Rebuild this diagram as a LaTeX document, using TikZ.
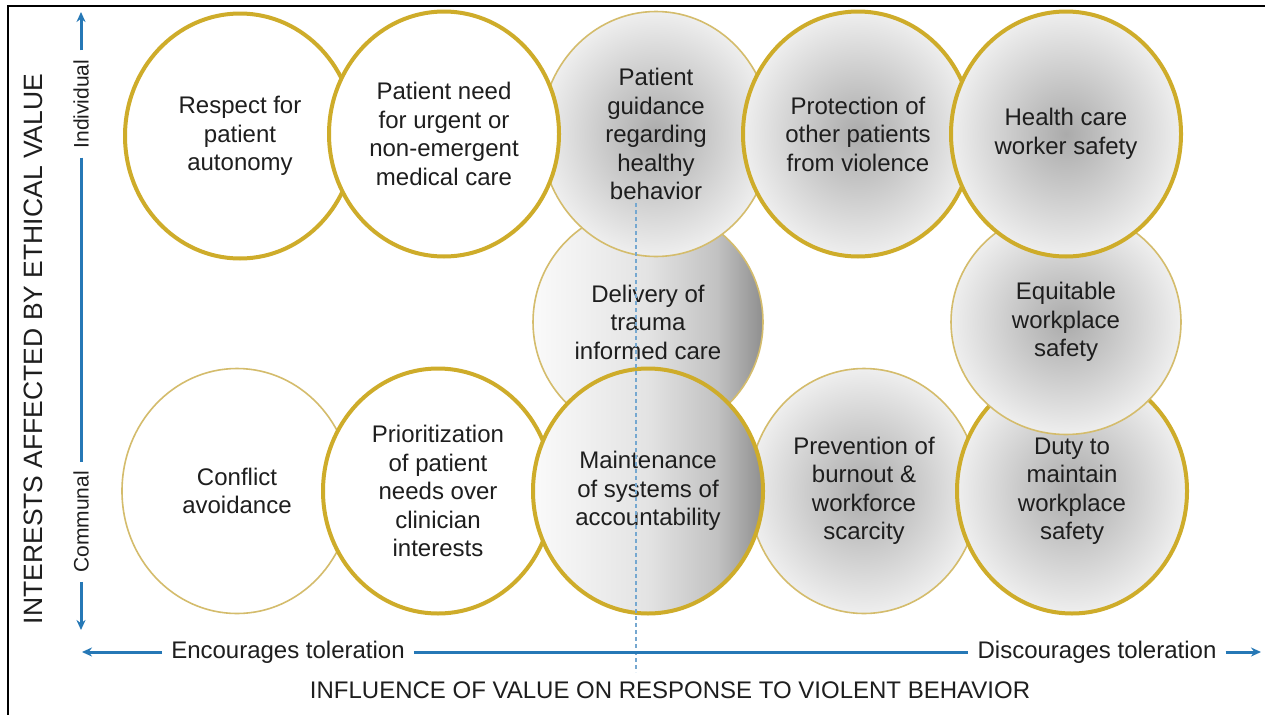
\documentclass[tikz,border=0pt]{standalone}
\usepackage{fontspec}
\setmainfont{Liberation Sans}
\usepackage{tikz}
\usetikzlibrary{shapes.geometric,arrows.meta}
\definecolor{ringgold}{RGB}{206,172,42}
\definecolor{palegold}{RGB}{212,188,108}
\definecolor{axisblue}{RGB}{38,120,182}
\definecolor{dashblue}{RGB}{118,168,208}
\definecolor{inkgray}{RGB}{30,30,30}
\pgfdeclareradialshading{ballgray}{\pgfpoint{0bp}{0bp}}{color(0bp)=(gray!66); color(10bp)=(gray!45); color(25bp)=(gray!13); color(50bp)=(gray!13)}
\pgfdeclarehorizontalshading{sidegray}{100bp}{color(0bp)=(gray!4); color(25bp)=(gray!4); color(50bp)=(gray!22); color(65bp)=(gray!48); color(75bp)=(gray!88); color(100bp)=(gray!88)}

\begin{document}
\begin{tikzpicture}[x=1pt,y=-1pt,
        ring/.style={ellipse, minimum width=230pt, minimum height=245pt, inner sep=0pt, align=center, text=inkgray, font=\fontsize{24}{28.5}\selectfont},
        bold/.style={ring, draw=ringgold, line width=4pt},
        fine/.style={ring, draw=palegold, line width=1.6pt},
        plain/.style={fill=white},
        ball/.style={shade, shading=ballgray},
        side/.style={shade, shading=sidegray},
        axis/.style={draw=axisblue, line width=3pt},
        tip/.style={-{Stealth[length=10pt,width=9pt]}},
        axlab/.style={text=inkgray, font=\fontsize{24}{28}\selectfont, inner sep=9pt},
        title/.style={text=inkgray, font=\fontsize{24}{28}\selectfont}]
    \useasboundingbox (0,0) rectangle (1265,715);
    \fill[white] (0,0) rectangle (1265,715);
    % \draw[help lines] (0,0) grid[step=50] (1265,715);
    \coordinate (tl) at (8,6);
    \coordinate (tr) at (1265,6);
    \coordinate (bl) at (8,715);
    \draw[line width=2pt] (tr) -- (tl) -- (bl);

    \node[fine, side, minimum height=230pt] (deliv) at (648,322) {Delivery of\\trauma\\informed care};
    \node[fine, ball] (prev) at (864,491) {Prevention of\\burnout \&\\workforce\\scarcity};
    \node[fine, plain] (confl) at (237,491) {Conflict\\avoidance};
    \node[bold, plain] (prio) at (438,491) {Prioritization\\of patient\\needs over\\clinician\\interests};
    \node[bold, side] (maint) at (648,491) {Maintenance\\of systems of\\accountability};
    \node[bold, ball] (duty) at (1072,491) {Duty to\\maintain\\workplace\\safety};
    \node[fine, ball, minimum height=225pt] (equit) at (1066,322) {Equitable\\workplace\\safety};
    \node[fine, ball] (guid) at (656,134) {Patient\\guidance\\regarding\\healthy\\behavior};
    \node[bold, plain] (resp) at (240,136) {Respect for\\patient\\autonomy};
    \node[bold, plain] (need) at (444,134) {Patient need\\for urgent or\\non-emergent\\medical care};
    \node[bold, ball] (prot) at (858,134) {Protection of\\other patients\\from violence};
    \node[bold, ball] (hcw) at (1066,134) {Health care\\worker safety};

    \coordinate (dtop) at (636,203);
    \coordinate (dbot) at (636,672);
    \draw[dashblue, line width=1.5pt, dash pattern=on 4pt off 3pt] (dtop) -- (dbot);

    \node[axlab, rotate=90, font=\fontsize{21}{25}\selectfont] (indiv) at (81,104) {Individual};
    \node[axlab, rotate=90, font=\fontsize{21}{25}\selectfont] (commu) at (81,522) {Communal};
    \coordinate (ytop) at (81,12);
    \coordinate (ybot) at (81,630);
    \draw[axis, tip] (indiv.east) -- (ytop);
    \draw[axis] (indiv.west) -- (commu.east);
    \draw[axis, tip] (commu.west) -- (ybot);

    \node[axlab] (enc) at (288,652) {Encourages toleration};
    \node[axlab] (disc) at (1097,652) {Discourages toleration};
    \coordinate (xleft) at (82,652);
    \coordinate (xright) at (1261,652);
    \draw[axis, tip] (enc.west) -- (xleft);
    \draw[axis] (enc.east) -- (disc.west);
    \draw[axis, tip] (disc.east) -- (xright);

    \node[title, rotate=90, font=\fontsize{26.5}{30}\selectfont] (ylab) at (33,349) {INTERESTS AFFECTED BY ETHICAL VALUE};
    \node[title] (xlab) at (670,690) {INFLUENCE OF VALUE ON RESPONSE TO VIOLENT BEHAVIOR};
\end{tikzpicture}
\end{document}
